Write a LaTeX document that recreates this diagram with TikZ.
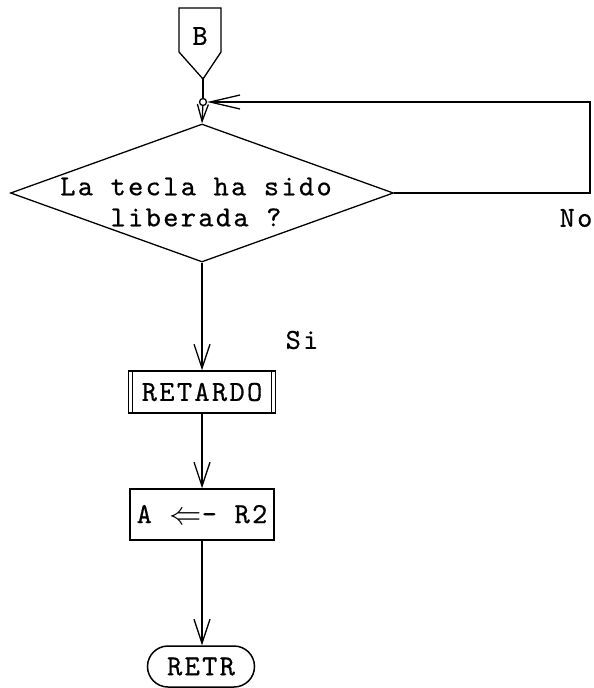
\documentclass[tikz,border=0pt]{standalone}
\usepackage{fontspec}
\usetikzlibrary{arrows.meta,shapes.geometric,shapes.misc}
\newfontfamily\twfam{lmmono10-regular.otf}[LetterSpace=8,FakeBold=0.5]
\newcommand\twfont{\twfam\fontsize{29}{31}\selectfont}
\begin{document}
\begin{tikzpicture}[x=1pt,y=-1pt,line width=1.3pt,line join=miter,
  every node/.style={font=\twfont},
  flow/.style={-{Straight Barb[length=24pt,width=16pt]}},
  flowshort/.style={-{Straight Barb[length=17pt,width=11pt]}},
  flowlong/.style={-{Straight Barb[length=30pt,width=14pt]}},
  box/.style={draw,rectangle,line width=1.5pt,inner sep=0pt}]
\useasboundingbox (0,0) rectangle (594,688);
% off-page connector B
\node (B) at (200,36) {B};
\coordinate (Btip) at (203,79);
\draw (179,8) -- (221,8) -- (221,52) -- (Btip) -- (179,52) -- cycle;
% junction
\node[circle,draw,minimum size=7pt,inner sep=0pt] (J) at (203,102) {};
\draw (Btip) -- (J);
% decision
\node[diamond,draw,minimum width=383pt,minimum height=138pt,inner sep=0pt] (D) at (202,193) {};
\node[align=center] (Dt) at (196,202) {La tecla ha sido\\liberada ?};
\draw[flowshort] (J) -- (D.north);
% No loop
\coordinate (R1) at (590,193);
\coordinate (R2) at (590,102);
\draw[flowlong] (D.east) -- (R1) -- (R2) -- (J.east);
\node (no) at (576,218) {No};
% RETARDO
\node[box,minimum width=147pt,minimum height=42pt] (RET) at (202,392) {RETARDO};
\draw ([xshift=4.5pt]RET.north west) -- ([xshift=4.5pt]RET.south west);
\draw ([xshift=-4.5pt]RET.north east) -- ([xshift=-4.5pt]RET.south east);
\draw[flow] (D.south) -- (RET.north);
\node (si) at (302,340) {Si};
% A <= R2
\node[box,minimum width=144pt,minimum height=51pt] (A) at (202,514.5) {A \raisebox{-1pt}{\scalebox{1.3}{$\Leftarrow$}}- R2};
\draw[flow] (RET.south) -- (A.north);
% RETR
\node[draw,rounded rectangle,minimum width=107pt,minimum height=41pt,inner sep=0pt,line width=1.5pt] (RT) at (201,666.5) {RETR\hspace{18pt}};
\draw[flow] (A.south) -- (A.south |- RT.north);
\end{tikzpicture}
\end{document}
